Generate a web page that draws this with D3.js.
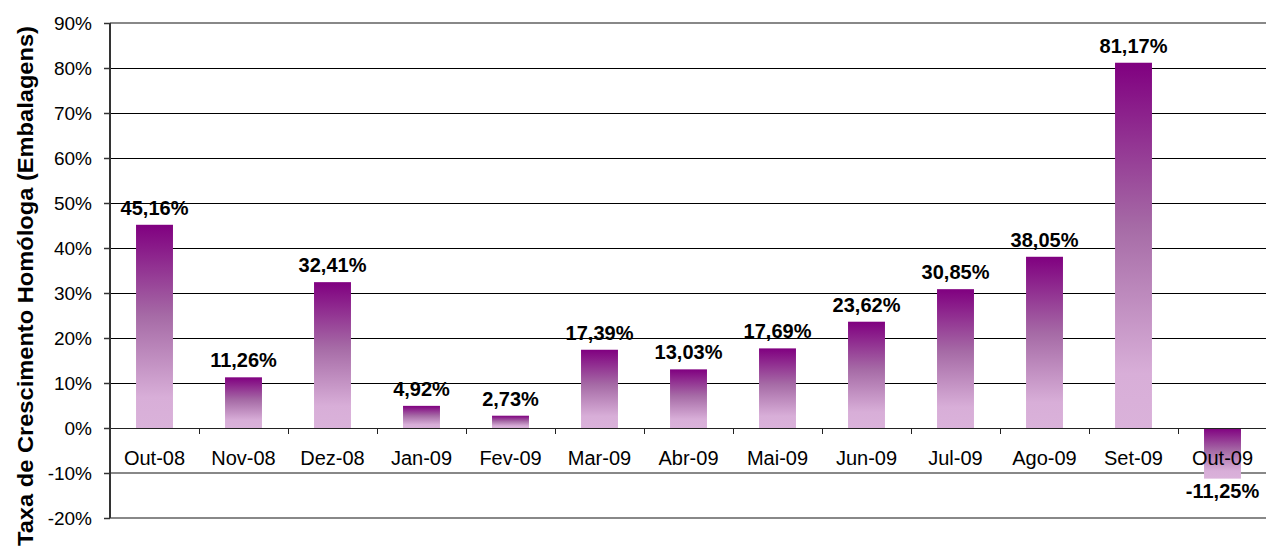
<!DOCTYPE html>
<html><head><meta charset="utf-8">
<script src="https://cdn.jsdelivr.net/npm/d3@7"></script>
<style>body{margin:0;background:#fff}svg{display:block;font-family:Arial,"Liberation Sans",sans-serif}</style>
</head><body><svg id="c" width="1266" height="555"></svg>
<script>
const categories = ["Out-08","Nov-08","Dez-08","Jan-09","Fev-09","Mar-09","Abr-09","Mai-09","Jun-09","Jul-09","Ago-09","Set-09","Out-09"];
const values = [45.16,11.26,32.41,4.92,2.73,17.39,13.03,17.69,23.62,30.85,38.05,81.17,-11.25];
const yTicks = [-20,-10,0,10,20,30,40,50,60,70,80,90];
const yTitle = "Taxa de Crescimento Homóloga (Embalagens)";

const svg = d3.select("#c");
const x = d3.scaleBand().domain(categories).range([110,1267]).paddingInner(0.585).paddingOuter(0.2925);
const y = d3.scaleLinear().domain([-20,90]).range([518,23]);

const defs = svg.append("defs");
const g = defs.append("linearGradient").attr("id","grad").attr("x1",0).attr("y1",0).attr("x2",0).attr("y2",1);
g.append("stop").attr("offset","0%").attr("stop-color","#800080");
g.append("stop").attr("offset","45%").attr("stop-color","#A66BA6");
g.append("stop").attr("offset","85%").attr("stop-color","#D8AED8");
g.append("stop").attr("offset","100%").attr("stop-color","#DAB2DA");

// gridlines
svg.append("g").selectAll("line").data(yTicks).join("line")
  .attr("x1",110).attr("x2",1266)
  .attr("y1",d=>y(d)).attr("y2",d=>y(d))
  .attr("stroke",d=>(d===90||d<0)?"#888":"#000")
  .attr("stroke-width",d=>(d===90||d<0)?2:1)
  .attr("shape-rendering","crispEdges");

// bars
svg.append("g").selectAll("rect").data(values).join("rect")
  .attr("x",(d,i)=>x(categories[i]))
  .attr("width",x.bandwidth())
  .attr("y",d=>y(Math.max(0,d)))
  .attr("height",d=>Math.abs(y(d)-y(0)))
  .attr("fill","url(#grad)");

// zero axis line
svg.append("line").attr("x1",110).attr("x2",1266).attr("y1",y(0)).attr("y2",y(0))
  .attr("stroke","#222").attr("stroke-width",1).attr("shape-rendering","crispEdges");

// x ticks
const step = x.step();
svg.append("g").selectAll("line").data(d3.range(1,categories.length)).join("line")
  .attr("x1",i=>110+i*step).attr("x2",i=>110+i*step)
  .attr("y1",y(0)).attr("y2",y(0)+6)
  .attr("stroke","#222").attr("shape-rendering","crispEdges");

// category labels
svg.append("g").selectAll("text").data(categories).join("text")
  .attr("x",d=>x(d)+x.bandwidth()/2).attr("y",y(0)+37)
  .attr("text-anchor","middle").attr("font-size",20).attr("fill","#000").text(d=>d);

// y axis
const yAxis = svg.append("g").attr("transform","translate(110,0)")
  .call(d3.axisLeft(y).tickValues(yTicks).tickSize(6).tickPadding(12).tickFormat(d=>d+"%"));
yAxis.select(".domain").attr("stroke","#333").attr("stroke-width",2).attr("d","M0,"+y(90)+"V"+y(-20));
yAxis.selectAll(".tick line").attr("stroke","#333").attr("stroke-width",1.5);
yAxis.selectAll(".tick text").attr("font-size",19).attr("fill","#000").attr("font-family","Arial, 'Liberation Sans', sans-serif");

// value labels
const fmt = v => v.toFixed(2).replace(".",",")+"%";
svg.append("g").selectAll("text").data(values).join("text")
  .attr("x",(d,i)=>x(categories[i])+x.bandwidth()/2)
  .attr("y",d=>d>=0? y(d)-10 : y(d)+19)
  .attr("text-anchor","middle").attr("font-size",20).attr("font-weight","bold").attr("fill","#000")
  .text(fmt);

// y title
svg.append("text").attr("transform","translate(33,286) rotate(-90)")
  .attr("text-anchor","middle").attr("font-size",22).attr("font-weight","bold").attr("fill","#000")
  .attr("textLength",520).attr("lengthAdjust","spacingAndGlyphs")
  .text(yTitle);
</script></body></html>
